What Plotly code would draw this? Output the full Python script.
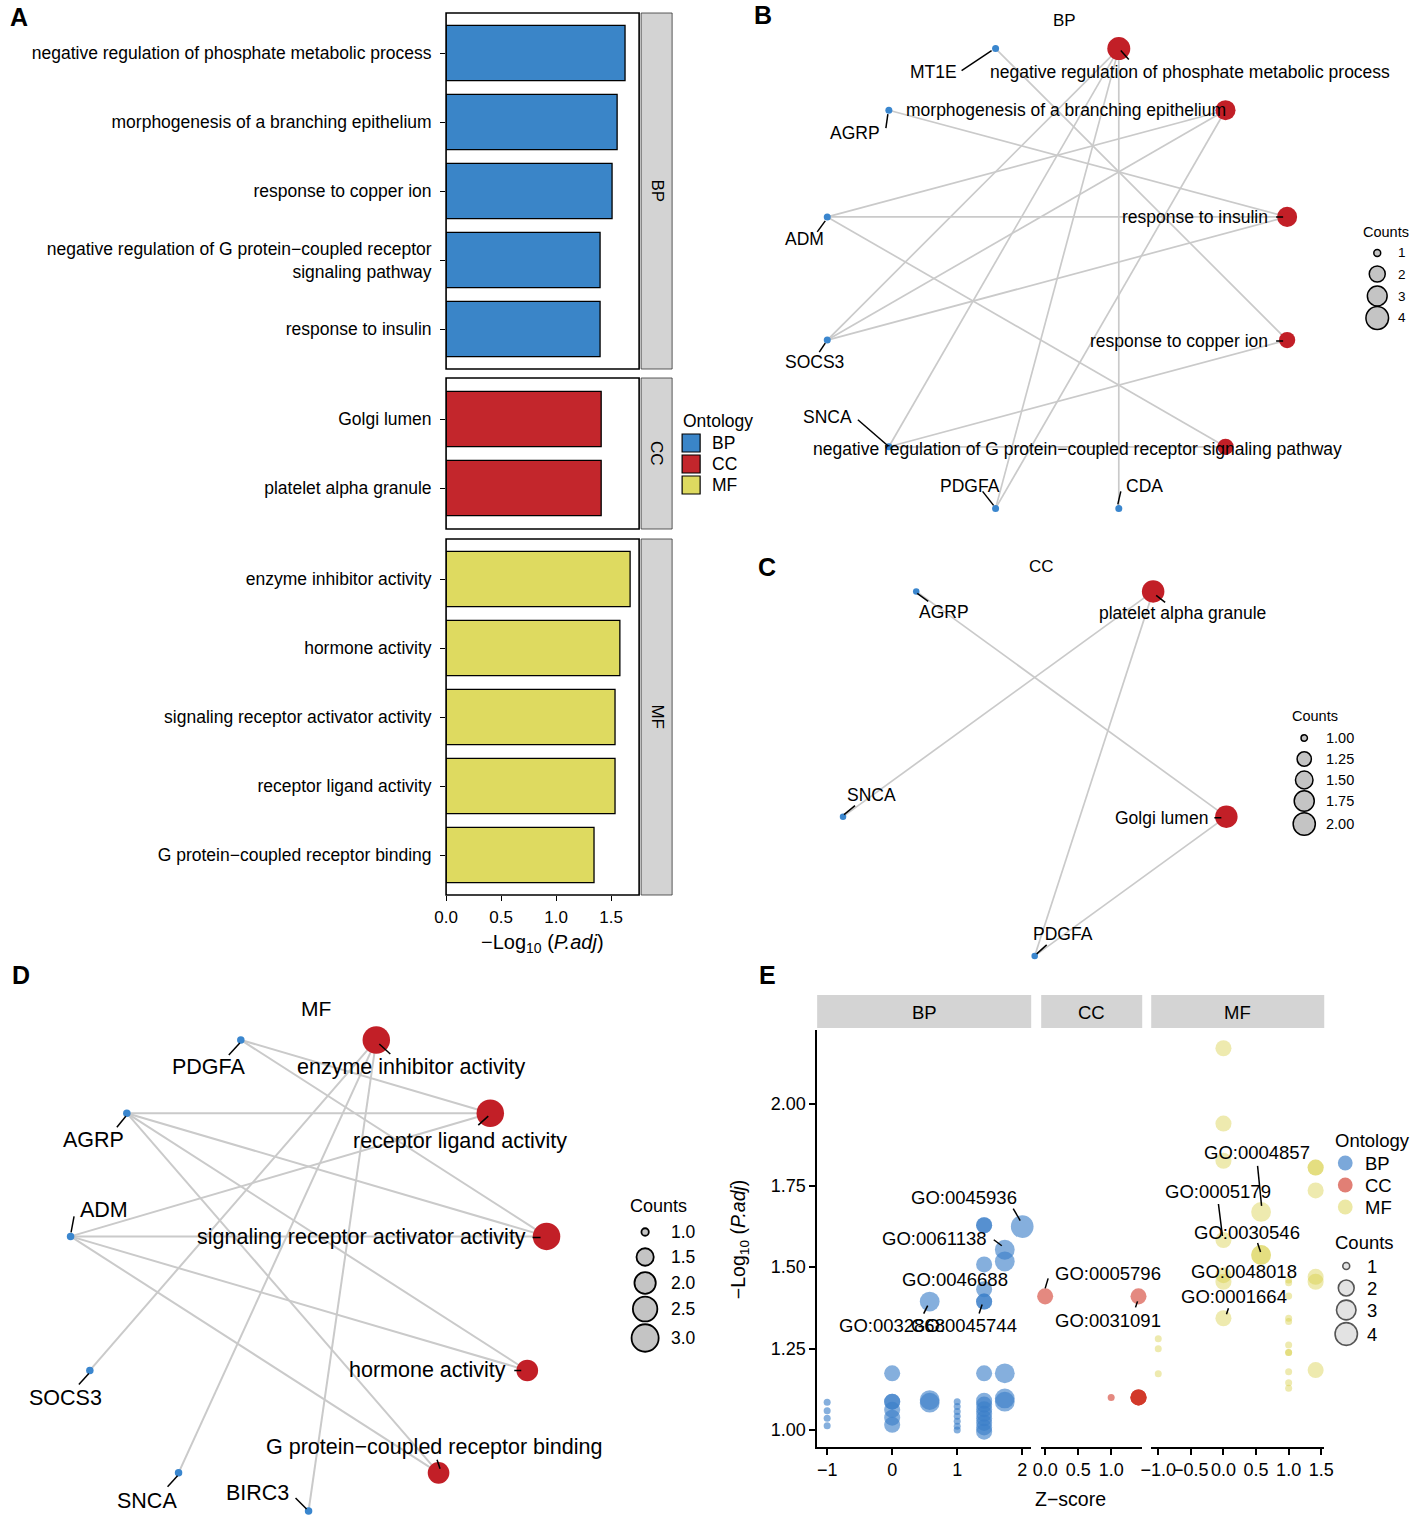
import math
import plotly.graph_objects as go

W, H = 1417, 1529
FONT = "Liberation Sans"
M = "\u2212"

# ---------------- Panel A data ----------------
A_BP_terms = ["negative regulation of phosphate metabolic process",
              "morphogenesis of a branching epithelium",
              "response to copper ion",
              "negative regulation of G protein" + M + "coupled receptor<br>signaling pathway",
              "response to insulin"]
A_BP_vals = [1.627, 1.555, 1.509, 1.400, 1.400]
A_CC_terms = ["Golgi lumen", "platelet alpha granule"]
A_CC_vals = [1.410, 1.410]
A_MF_terms = ["enzyme inhibitor activity", "hormone activity",
              "signaling receptor activator activity", "receptor ligand activity",
              "G protein" + M + "coupled receptor binding"]
A_MF_vals = [1.673, 1.580, 1.536, 1.536, 1.345]
A_ticks = [0, 0.5, 1.0, 1.5]
A_ticktext = ["0.0", "0.5", "1.0", "1.5"]

# ---------------- Panel B data (BP network) ----------------
B_terms = ["negative regulation of phosphate metabolic process",
           "morphogenesis of a branching epithelium",
           "response to insulin", "response to copper ion",
           "negative regulation of G protein" + M + "coupled receptor signaling pathway"]
B_genes = ["CDA", "PDGFA", "SNCA", "SOCS3", "ADM", "AGRP", "MT1E"]
B_edges = [("MT1E", B_terms[3]), ("AGRP", B_terms[2]),
           ("ADM", B_terms[1]), ("ADM", B_terms[2]), ("ADM", B_terms[4]),
           ("SOCS3", B_terms[0]), ("SOCS3", B_terms[1]), ("SOCS3", B_terms[2]),
           ("SNCA", B_terms[0]), ("SNCA", B_terms[3]), ("SNCA", B_terms[4]),
           ("PDGFA", B_terms[0]), ("PDGFA", B_terms[1]),
           ("CDA", B_terms[0])]
B_legend_vals = [1, 2, 3, 4]

# ---------------- Panel C data (CC network) ----------------
C_terms = ["platelet alpha granule", "Golgi lumen"]
C_genes = ["PDGFA", "SNCA", "AGRP"]
C_edges = [("AGRP", "Golgi lumen"), ("SNCA", "platelet alpha granule"),
           ("PDGFA", "platelet alpha granule"), ("PDGFA", "Golgi lumen")]
C_legend_vals = [1.00, 1.25, 1.50, 1.75, 2.00]

# ---------------- Panel D data (MF network) ----------------
D_terms = ["enzyme inhibitor activity", "receptor ligand activity",
           "signaling receptor activator activity", "hormone activity",
           "G protein" + M + "coupled receptor binding"]
D_genes = ["BIRC3", "SNCA", "SOCS3", "ADM", "AGRP", "PDGFA"]
D_edges = [("PDGFA", D_terms[1]), ("PDGFA", D_terms[2]),
           ("SOCS3", D_terms[0]), ("SNCA", D_terms[0]), ("BIRC3", D_terms[0]),
           ("AGRP", D_terms[1]), ("AGRP", D_terms[2]), ("AGRP", D_terms[3]), ("AGRP", D_terms[4]),
           ("ADM", D_terms[1]), ("ADM", D_terms[2]), ("ADM", D_terms[3]), ("ADM", D_terms[4])]
D_legend_vals = [1.0, 1.5, 2.0, 2.5, 3.0]

# ---------------- Panel E data (bubble plot) ----------------
E_BP_z = [-1, -1, -1, -1,
          0, 0, 0, 0, 0, 0,
          0.577, 0.577, 0.577,
          1, 1, 1, 1, 1, 1, 1,
          1.414, 1.414, 1.414, 1.414, 1.414, 1.414, 1.414, 1.414, 1.414, 1.414, 1.414, 1.414, 1.414, 1.414, 1.414,
          1.732, 1.732, 1.732, 1.732, 1.732,
          2]
E_BP_y = [1.085, 1.059, 1.036, 1.013,
          1.174, 1.087, 1.087, 1.062, 1.038, 1.016,
          1.394, 1.092, 1.084,
          1.087, 1.072, 1.057, 1.042, 1.027, 1.012, 1.000,
          1.628, 1.628, 1.508, 1.432, 1.394, 1.394, 1.174, 1.090, 1.078, 1.064, 1.050, 1.036, 1.022, 1.008, 0.995,
          1.553, 1.517, 1.174, 1.097, 1.087,
          1.624]
E_BP_n = [1] * 4 + [2] * 6 + [3] * 3 + [1] * 7 + [2] * 15 + [3] * 5 + [4]
E_BP_go = [""] * 10 + ["GO:0032868", "", ""] + [""] * 7 + \
          ["", "", "GO:0046688", "", "GO:0045744"] + [""] * 10 + \
          ["GO:0061138", "", "", "", ""] + ["GO:0045936"]

E_CC_z = [0, 1.414, 1, 1.414, 1.414, 1.414, 1.414]
E_CC_y = [1.41, 1.41, 1.10, 1.10, 1.10, 1.10, 1.10]
E_CC_n = [2, 2, 1, 2, 2, 2, 2]
E_CC_go = ["GO:0005796", "GO:0031091", "", "", "", "", ""]

E_MF_z = [0, 0, 0, 0, 0, 0, 0,
          0.577, 0.577, 0.577,
          -1, -1, -1,
          1, 1, 1, 1, 1, 1, 1, 1, 1, 1, 1,
          1.414, 1.414, 1.414, 1.414, 1.414, 1.414]
E_MF_y = [2.171, 1.940, 1.826, 1.583, 1.475, 1.455, 1.343,
          1.669, 1.537, 1.537,
          1.280, 1.249, 1.173,
          1.460, 1.452, 1.411, 1.343, 1.333, 1.261, 1.238, 1.238, 1.179, 1.145, 1.128,
          1.805, 1.805, 1.735, 1.470, 1.455, 1.184]
E_MF_n = [2] * 7 + [3] * 3 + [1] * 3 + [1] * 11 + [2] * 6
E_MF_go = ["", "", "", "GO:0005179", "", "", "GO:0001664",
           "GO:0004857", "GO:0030546", "GO:0048018"] + [""] * 20

E_yticks = [1.00, 1.25, 1.50, 1.75, 2.00]
E_yticktext = ["1.00", "1.25", "1.50", "1.75", "2.00"]
E_BP_xticks = [-1, 0, 1, 2]
E_BP_xtext = [M + "1", "0", "1", "2"]
E_CC_xticks = [0, 0.5, 1.0]
E_CC_xtext = ["0.0", "0.5", "1.0"]
E_MF_xticks = [-1, -0.5, 0, 0.5, 1.0, 1.5]
E_MF_xtext = [M + "1.0", M + "0.5", "0.0", "0.5", "1.0", "1.5"]
E_count_legend = [1, 2, 3, 4]

# ---------------- helpers ----------------
fig = go.Figure()
shapes, annotations = [], []
layout = {}

# horizontal calibration of the layout grid
XS, XO = 0.985, 11.0


def PX(x):
    return ((x - XO) / XS) / W


def PY(y):
    return 1 - y / H


def note(x, y, s, size=16, xanchor="center", yanchor="middle", textangle=0, bold=False):
    annotations.append(dict(x=PX(x), y=PY(y), xref="paper", yref="paper",
                            text=("<b>%s</b>" % s) if bold else s, showarrow=False,
                            textangle=textangle, xanchor=xanchor, yanchor=yanchor,
                            font=dict(family=FONT, size=size, color="black")))


def rect(x0, y0, x1, y1, fill="rgba(0,0,0,0)", line="black", lw=1.0):
    shapes.append(dict(type="rect", xref="paper", yref="paper", x0=PX(x0), x1=PX(x1),
                       y0=PY(y1), y1=PY(y0), fillcolor=fill,
                       line=dict(color=line, width=lw), layer="above"))


def circle(cx, cy, d, fill, line="black", lw=1.2):
    shapes.append(dict(type="circle", xref="paper", yref="paper",
                       x0=PX(cx) - d / 2 / W, x1=PX(cx) + d / 2 / W,
                       y0=PY(cy + d / 2), y1=PY(cy - d / 2), fillcolor=fill,
                       line=dict(color=line, width=lw), layer="above"))


def leader(xref, yref, ax, ay, seg, lw=1.5):
    shapes.append(dict(type="line", xref=xref, yref=yref, xsizemode="pixel", ysizemode="pixel",
                       xanchor=ax, yanchor=ay, x0=seg[0], y0=-seg[1], x1=seg[2], y1=-seg[3],
                       line=dict(color="black", width=lw), layer="above"))


# ---------------- Panel A ----------------
A_COL = {"BP": "#3A85C8", "CC": "#C3262C", "MF": "#DEDA60"}
A_panels = [("BP", A_BP_terms, A_BP_vals, 13, 369, "y", "yaxis"),
            ("CC", A_CC_terms, A_CC_vals, 378, 529, "y2", "yaxis2"),
            ("MF", A_MF_terms, A_MF_vals, 539, 895, "y3", "yaxis3")]
SPACING = 69.0
for key, terms, vals, top, bot, yref, ykey in A_panels:
    n = len(terms)
    pad = ((bot - top) / SPACING - n) / 2 + 0.5
    fig.add_trace(go.Bar(x=vals, y=terms, orientation="h", width=0.8,
                         marker=dict(color=A_COL[key], line=dict(color="black", width=1.3)),
                         xaxis="x", yaxis=yref, showlegend=False, hoverinfo="x+y"))
    layout[ykey] = dict(domain=[PY(bot), PY(top)], anchor="x", type="category",
                        categoryorder="array", categoryarray=terms, range=[n - 1 + pad, -pad],
                        ticks="outside", ticklen=5, tickwidth=1.3, tickcolor="black",
                        ticklabelstandoff=5,
                        showgrid=False, zeroline=False, showline=False, fixedrange=True,
                        tickfont=dict(family=FONT, size=17.5, color="black"))
    rect(445, top, 638, bot, lw=1.6)
    rect(640, top, 671, bot, fill="#D3D3D3", line="#333333", lw=0.8)
    note(655.5, (top + bot) / 2, key, size=17, textangle=90)

layout["xaxis"] = dict(domain=[PX(445), PX(638)], range=[0, 1.755], anchor="y3",
                       tickvals=A_ticks, ticktext=A_ticktext, ticks="outside", ticklen=5,
                       tickwidth=1.3, tickcolor="black", showgrid=False, zeroline=False,
                       showline=False, fixedrange=True, ticklabelstandoff=2,
                       tickfont=dict(family=FONT, size=17, color="black"))
note(541, 943, M + "Log<sub>10</sub> (<i>P.adj</i>)", size=20)

note(680, 421, "Ontology", 17.5, xanchor="left")
for i, k in enumerate(["BP", "CC", "MF"]):
    yy = 443 + 21 * i
    rect(681, yy - 9, 699, yy + 9, fill=A_COL[k], line="black", lw=1.2)
    note(709, yy, k, 17.5, xanchor="left")

# ---------------- networks ----------------
GENE_COL = "#3A86CE"
TERM_COL = "#C21F27"


def network(idx, terms, genes, edges, cx, cy, r, hw, hh, dmin, dmax, lw, labels, fs):
    xa, ya = "x%d" % idx, "y%d" % idx
    layout["xaxis%d" % idx] = dict(domain=[PX(cx - hw), PX(cx + hw)], range=[-hw / r, hw / r],
                                   visible=False, anchor=ya, fixedrange=True)
    layout["yaxis%d" % idx] = dict(domain=[PY(cy + hh), PY(cy - hh)], range=[-hh / r, hh / r],
                                   visible=False, anchor=xa, fixedrange=True)
    nodes = terms + genes
    n = len(nodes)
    pos = {}
    for i, nm in enumerate(nodes):
        a = math.radians(90 - 180.0 / n - 360.0 * i / n)
        pos[nm] = (math.cos(a), math.sin(a))
    ex, ey = [], []
    for g, t in edges:
        ex += [pos[g][0], pos[t][0], None]
        ey += [pos[g][1], pos[t][1], None]
    fig.add_trace(go.Scatter(x=ex, y=ey, mode="lines", line=dict(color="#CACACA", width=lw),
                             xaxis=xa, yaxis=ya, hoverinfo="skip", showlegend=False, cliponaxis=False))
    counts = [sum(1 for g, t in edges if t == term) for term in terms]
    cmax = max(counts)

    def dia(c):
        return dmin + (dmax - dmin) * math.sqrt(max(c - 1, 0) / (cmax - 1))

    fig.add_trace(go.Scatter(x=[pos[g][0] for g in genes], y=[pos[g][1] for g in genes],
                             mode="markers",
                             marker=dict(size=dmin, color=GENE_COL, opacity=1, line=dict(width=0)),
                             xaxis=xa, yaxis=ya, text=genes, hoverinfo="text", showlegend=False,
                             cliponaxis=False))
    fig.add_trace(go.Scatter(x=[pos[t][0] for t in terms], y=[pos[t][1] for t in terms],
                             mode="markers",
                             marker=dict(size=[dia(c) for c in counts], color=TERM_COL, opacity=1,
                                         line=dict(width=0)),
                             xaxis=xa, yaxis=ya, text=terms, hoverinfo="text", showlegend=False,
                             cliponaxis=False))
    for nm in nodes:
        anc, dx, dy, ld = labels[nm]
        annotations.append(dict(x=pos[nm][0], y=pos[nm][1], xref=xa, yref=ya, text=nm,
                                showarrow=False, xshift=dx, yshift=-dy, xanchor=anc, yanchor="middle",
                                font=dict(family=FONT, size=fs, color="black")))
        if ld:
            leader(xa, ya, pos[nm][0], pos[nm][1], ld)
    return dia


B_lab = {
    B_terms[0]: ("left", -131, 23, (2, 2, 10, 11)),
    B_terms[1]: ("right", 2, 0, None),
    B_terms[2]: ("right", -17, 0, (-11, 0, -4, 0)),
    B_terms[3]: ("right", -17, 1, (-11, 1, -4, 1)),
    B_terms[4]: ("center", -148, 2, None),
    "CDA": ("center", 26, -22, (-1, -4, 2, -17)),
    "PDGFA": ("center", -26, -22, (-2, -3, -13, -17)),
    "SNCA": ("center", -61, -30, (-1, -1, -31, -27)),
    "SOCS3": ("center", -13, 22, (-2, 3, -8, 12)),
    "ADM": ("center", -23, 22, (-2, 4, -10, 15)),
    "AGRP": ("center", -34, 23, (-1, 4, -3, 18)),
    "MT1E": ("center", -62, 23, (-4, 2, -34, 22)),
}
B_dia = network(4, B_terms, B_genes, B_edges, 1056, 278.5, 238, 300, 250, 7, 23, 1.7, B_lab, 17.5)
note(1063, 20, "BP", 17)
note(1410, 232, "Counts", 14.5, xanchor="right")
for v, yy in zip(B_legend_vals, [253, 274, 296, 318]):
    circle(1376, yy, B_dia(v), "#C4C4C4", "black", 1.5)
    note(1401, yy, str(v), 13.5)

C_lab = {
    "platelet alpha granule": ("left", -56, 22, (3, 4, 12, 11)),
    "Golgi lumen": ("right", -16, 1, (-12, 1, -5, 1)),
    "PDGFA": ("center", 28, -22, (2, -2, 12, -11)),
    "SNCA": ("center", 28, -22, (1, -2, 12, -11)),
    "AGRP": ("center", 28, 21, (1, 2, 12, 10)),
}
C_dia = network(5, C_terms, C_genes, C_edges, 1033.5, 754.4, 201.5, 230, 215, 6.5, 22.5, 1.7, C_lab, 17.5)
note(1040, 566, "CC", 17)
note(1314, 716, "Counts", 14.5)
for v, yy in zip(C_legend_vals, [738, 759, 780, 801, 824]):
    circle(1303, yy, C_dia(v), "#C4C4C4", "black", 1.5)
    note(1339, yy, "%.2f" % v, 14.5)

D_lab = {
    D_terms[0]: ("left", -81, 27, (3, 4, 14, 14)),
    D_terms[1]: ("left", -139, 28, (-2, 3, -12, 12)),
    D_terms[2]: ("right", -18.5, 1, (-14, 1, -6, 1)),
    D_terms[3]: ("right", -19, 0, (-13, 0, -6, 0)),
    D_terms[4]: ("center", -4.5, -26, (-1.5, -13, 1.5, -4)),
    "BIRC3": ("center", -51, -18, (-2, -2, -13, -13)),
    "SNCA": ("center", -32, 28, (-1, 3, -11, 14)),
    "SOCS3": ("center", -24, 28, (-1, 3, -11, 14)),
    "ADM": ("center", 33.5, -26, (0.5, -4, 3.5, -20)),
    "AGRP": ("center", -33, 27, (-1, 3, -10, 14)),
    "PDGFA": ("center", -32, 27, (-1, 3, -12, 15)),
}
D_dia = network(6, D_terms, D_genes, D_edges, 307.5, 1270.6, 240.4, 290, 250, 7.5, 27.5, 2.0, D_lab, 21.5)
note(315, 1008, "MF", 21)
note(657, 1206, "Counts", 18)
for v, yy in zip(D_legend_vals, [1232, 1257, 1283, 1309, 1338]):
    circle(644, yy, D_dia(v), "#C4C4C4", "black", 1.8)
    note(682, yy, "%.1f" % v, 17.5)

# ---------------- Panel E ----------------
E_BASE = {"BP": (58, 126, 200), "CC": (208, 52, 36), "MF": (214, 206, 64)}
E_OP = {"BP": 0.62, "CC": 0.58, "MF": 0.42}


def edia(c):
    return 7 + 15.7 * math.sqrt((c - 1) / 3.0)


layout["yaxis7"] = dict(domain=[PY(1447), PY(1030)], range=[0.948, 2.227], anchor="x7",
                        tickvals=E_yticks, ticktext=E_yticktext, ticks="outside", ticklen=6,
                        tickwidth=1.5, tickcolor="black", showline=True, linecolor="black",
                        linewidth=1.5, showgrid=False, zeroline=False, fixedrange=True,
                        tickfont=dict(family=FONT, size=18, color="black"))
E_facets = [("BP", E_BP_z, E_BP_y, E_BP_n, E_BP_go, 7, 816, 1030, [-1.154, 2.138], E_BP_xticks, E_BP_xtext),
            ("CC", E_CC_z, E_CC_y, E_CC_n, E_CC_go, 8, 1040, 1141, [-0.06, 1.47], E_CC_xticks, E_CC_xtext),
            ("MF", E_MF_z, E_MF_y, E_MF_n, E_MF_go, 9, 1150, 1323, [-1.108, 1.546], E_MF_xticks, E_MF_xtext)]
E_lab = {
    "GO:0045936": (-58, -29, (-9, -18, -2, -6)),
    "GO:0061138": (-70, -11, (-11, -10, -3, -4)),
    "GO:0046688": (-29, 15, None),
    "GO:0045744": (-20, 24, (-5, 12, -2, 3)),
    "GO:0032868": (-38, 24, (-6, 12, -2, 4)),
    "GO:0005796": (63, -23, (0, -8, 3, -18)),
    "GO:0031091": (-31, 24, (-3, 11, -1, 5)),
    "GO:0004857": (-4, -59, (-3.5, -46, 0.5, -6)),
    "GO:0005179": (-5, -48, (-5, -36, -1, -4)),
    "GO:0030546": (-14, -22, (-3.5, -12, -0.5, -3)),
    "GO:0048018": (-17, 17, None),
    "GO:0001664": (11, -22, (3, -4, 5, -10)),
}
for key, zs, ys, ns, gos, idx, x0, x1, rng, tv, tt in E_facets:
    xa = "x%d" % idx
    layout["xaxis%d" % idx] = dict(domain=[PX(x0), PX(x1)], range=rng, anchor="y7",
                                   tickvals=tv, ticktext=tt, ticks="outside", ticklen=6,
                                   tickwidth=1.5, tickcolor="black", showline=True, tickangle=0,
                                   linecolor="black", linewidth=1.5, showgrid=False,
                                   zeroline=False, fixedrange=True,
                                   tickfont=dict(family=FONT, size=18, color="black"))
    rgb = E_BASE[key]
    fig.add_trace(go.Scatter(x=zs, y=ys, mode="markers", xaxis=xa, yaxis="y7",
                             marker=dict(size=[edia(c) for c in ns], color="rgb(%d,%d,%d)" % rgb,
                                         opacity=E_OP[key], line=dict(width=0)),
                             text=gos, hoverinfo="x+y+text", showlegend=False, cliponaxis=False))
    for z, y, g in zip(zs, ys, gos):
        if g:
            dx, dy, ld = E_lab[g]
            annotations.append(dict(x=z, y=y, xref=xa, yref="y7", text=g, showarrow=False,
                                    xshift=dx, yshift=-dy,
                                    font=dict(family=FONT, size=18.5, color="black")))
            if ld:
                leader(xa, "y7", z, y, ld)
    rect(x0, 995, x1, 1028, fill="#D4D4D4", line="rgba(0,0,0,0)", lw=0)
    note((x0 + x1) / 2, 1012, key, 18.5)

note(738, 1240, M + "Log<sub>10</sub> (<i>P.adj</i>)", 19.5, textangle=-90)
note(1069, 1499, "Z" + M + "score", 19.5)

note(1332, 1140, "Ontology", 18.5, xanchor="left")
for i, k in enumerate(["BP", "CC", "MF"]):
    yy = 1163 + 22 * i
    r_, g_, b_ = E_BASE[k]
    circle(1344, yy, 15, "rgba(%d,%d,%d,%.2f)" % (r_, g_, b_, E_OP[k] + 0.05), "rgba(0,0,0,0)", 0)
    note(1362, yy, k, 18.5, xanchor="left")
note(1332, 1242, "Counts", 18.5, xanchor="left")
for c, yy in zip(E_count_legend, [1266, 1288, 1310, 1334]):
    circle(1345, yy, edia(c), "rgba(200,200,200,0.5)", "#555555", 1.6)
    note(1371, yy, str(c), 18.5)

# ---------------- panel letters ----------------
for s, x, y in [("A", 18, 17), ("B", 762, 15), ("C", 766, 567), ("D", 20, 975), ("E", 766, 975)]:
    note(x, y, s, 25, bold=True)

fig.update_layout(**layout)
fig.update_layout(width=W, height=H, margin=dict(l=0, r=0, t=0, b=0),
                  paper_bgcolor="white", plot_bgcolor="white", showlegend=False,
                  shapes=shapes, annotations=annotations,
                  font=dict(family=FONT, color="black"))
fig.write_html("out.html", config={"displayModeBar": False},
               post_script="document.body.style.margin='0px';")
